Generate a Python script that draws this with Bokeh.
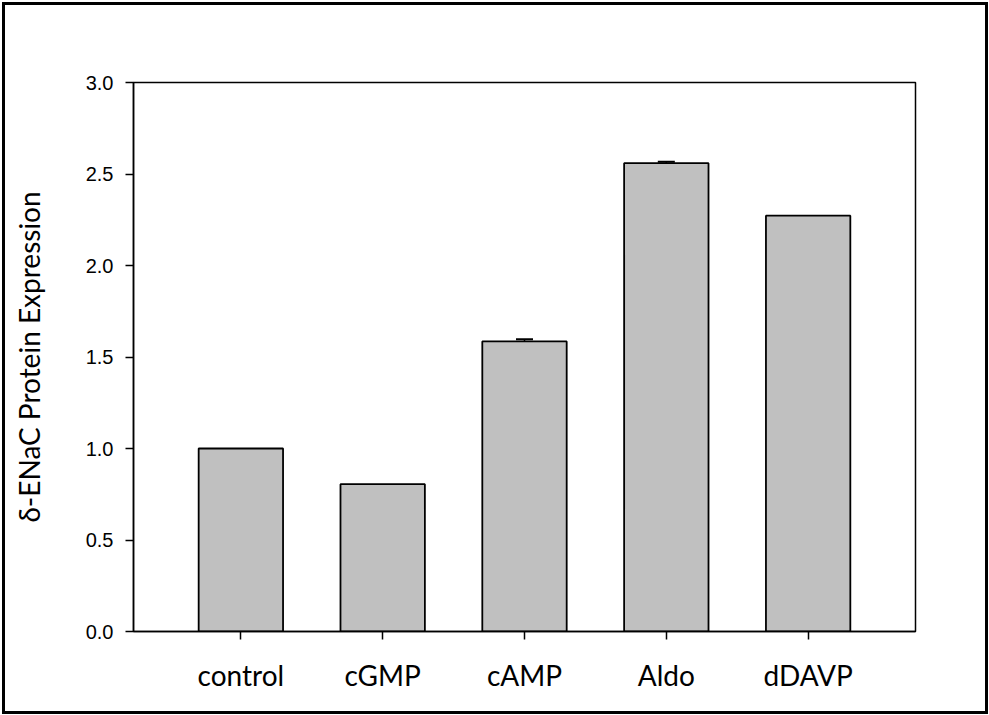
from bokeh.plotting import figure
from bokeh.models import Range1d, FixedTicker, ColumnDataSource, NumeralTickFormatter
from bokeh.embed import file_html
from bokeh.resources import INLINE

categories = ["control", "cGMP", "cAMP", "Aldo", "dDAVP"]
values = [1.0, 0.805, 1.585, 2.559, 2.272]
errors = [0.0, 0.0, 0.012, 0.008, 0.0]
y_ticks = [0.0, 0.5, 1.0, 1.5, 2.0, 2.5, 3.0]

xs = list(range(len(categories)))
src = ColumnDataSource(dict(x=xs, top=values))

p = figure(width=986, height=712, output_backend="svg", toolbar_location=None,
           x_range=Range1d(-0.757, 4.757), y_range=Range1d(0, 3.0),
           min_border_left=128, min_border_right=76, min_border_top=77, min_border_bottom=86)
p.styles = {"border": "3px solid black", "box-sizing": "border-box", "margin": "2px"}

p.vbar(x="x", top="top", bottom=0, width=0.595, source=src,
       fill_color="#C0C0C0", line_color="black", line_width=1.8)

err_idx = [i for i, e in enumerate(errors) if e > 0]
p.segment(x0=[xs[i] for i in err_idx], y0=[values[i] for i in err_idx],
          x1=[xs[i] for i in err_idx], y1=[values[i] + errors[i] for i in err_idx],
          line_color="black", line_width=1.5)
p.segment(x0=[xs[i] - 0.06 for i in err_idx], y0=[values[i] + errors[i] for i in err_idx],
          x1=[xs[i] + 0.06 for i in err_idx], y1=[values[i] + errors[i] for i in err_idx],
          line_color="black", line_width=2)

p.grid.visible = False
p.outline_line_color = "black"
p.outline_line_width = 1.5
p.outline_line_alpha = 1.0

p.xaxis.ticker = FixedTicker(ticks=xs)
p.xaxis.major_label_overrides = {i: c for i, c in enumerate(categories)}
p.yaxis.ticker = FixedTicker(ticks=y_ticks)
p.yaxis.formatter = NumeralTickFormatter(format="0.0")

for ax in (p.xaxis, p.yaxis):
    ax.axis_line_color = "black"
    ax.axis_line_width = 1.5
    ax.major_tick_line_color = "black"
    ax.major_tick_line_width = 1.5
    ax.major_tick_in = 0
    ax.major_tick_out = 8
    ax.minor_tick_line_color = None

p.yaxis.major_label_text_font = "Liberation Sans"
p.yaxis.major_label_text_font_size = "20px"
p.yaxis.major_label_text_color = "black"
p.yaxis.major_label_standoff = 12

p.xaxis.major_label_text_font = "Lato"
p.xaxis.major_label_text_font_size = "28px"
p.xaxis.major_label_text_color = "black"
p.xaxis.major_label_standoff = 18

p.yaxis.axis_label = "δ-ENaC Protein Expression"
p.yaxis.axis_label_text_font = "Lato"
p.yaxis.axis_label_text_font_size = "28px"
p.yaxis.axis_label_text_font_style = "normal"
p.yaxis.axis_label_text_color = "black"
p.yaxis.axis_label_standoff = 37

open("out.html", "w").write(file_html(p, INLINE))
